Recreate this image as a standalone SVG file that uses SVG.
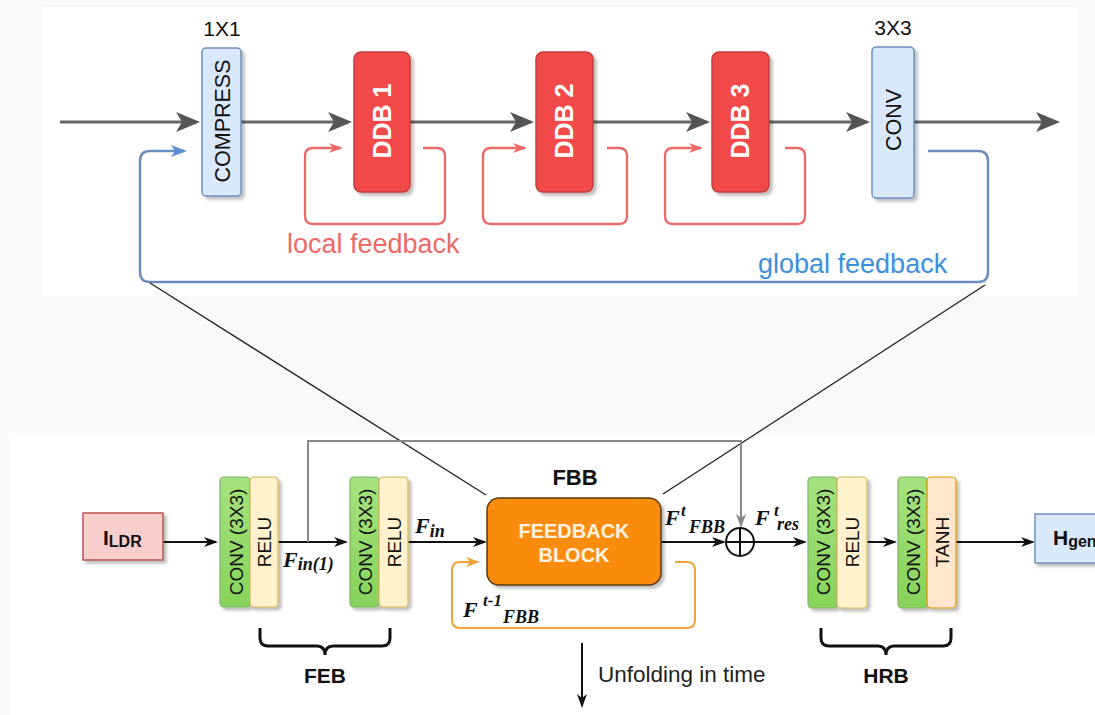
<svg xmlns="http://www.w3.org/2000/svg" width="1095" height="715" viewBox="0 0 1095 715">
<style>
.sans{font-family:"Liberation Sans",Arial,sans-serif}
.math{font-family:"Liberation Serif","Times New Roman",serif;font-style:italic;font-weight:bold;fill:#111}
.main{fill:none;stroke:#666;stroke-width:3}
.loc{fill:none;stroke:#ea6b66;stroke-width:2.3}
.glob{fill:none;stroke:#6c8ebf;stroke-width:2.5}
.blk{fill:none;stroke:#111;stroke-width:2}
.skip{fill:none;stroke:#888;stroke-width:2}
.orng{fill:none;stroke:#f2a33a;stroke-width:2}
.zoom{fill:none;stroke:#222;stroke-width:1.3}
.brace{fill:none;stroke:#111;stroke-width:3}
.bluebox{fill:#dae8fc;stroke:#6c8ebf;stroke-width:1.5}
.ddb{fill:#f24a4a;stroke:#c43c3c;stroke-width:1.5}
.conv{fill:url(#gg);stroke:#82b366;stroke-width:1.2}
.relu{fill:#fff2cc;stroke:#d6b656;stroke-width:1.2}
.tanh{fill:#ffe6cc;stroke:#d79b00;stroke-width:1.2}
.rot{font-family:"Liberation Sans",Arial,sans-serif;text-anchor:middle;fill:#111}
</style>
<defs>
<linearGradient id="gg" x1="0" y1="0" x2="0" y2="1">
<stop offset="0" stop-color="#a6e27f"/>
<stop offset="1" stop-color="#86d35a"/>
</linearGradient>
<filter id="sh" x="-20%" y="-20%" width="150%" height="150%">
<feDropShadow dx="3" dy="3" stdDeviation="1.5" flood-color="#000" flood-opacity="0.25"/>
</filter>
<marker id="aGray" markerUnits="userSpaceOnUse" markerWidth="26" markerHeight="22" refX="20" refY="10" orient="auto">
<path d="M0,0 L24,10 L0,20 L6,10 z" fill="#555"/>
</marker>
<marker id="aRed" markerUnits="userSpaceOnUse" markerWidth="16" markerHeight="12" refX="12" refY="5" orient="auto">
<path d="M0,0 L14,5 L0,10 L4,5 z" fill="#ea6b66"/>
</marker>
<marker id="aBlue" markerUnits="userSpaceOnUse" markerWidth="18" markerHeight="14" refX="13" refY="6" orient="auto">
<path d="M0,0 L16,6 L0,12 L4,6 z" fill="#5b8fd8"/>
</marker>
<marker id="aOrg" markerUnits="userSpaceOnUse" markerWidth="16" markerHeight="12" refX="12" refY="5" orient="auto">
<path d="M0,0 L14,5 L0,10 L4,5 z" fill="#f2a33a"/>
</marker>
<marker id="aBlk" markerUnits="userSpaceOnUse" markerWidth="16" markerHeight="12" refX="12" refY="5" orient="auto">
<path d="M0,0 L14,5 L0,10 L4,5 z" fill="#111"/>
</marker>
<marker id="aSkip" markerUnits="userSpaceOnUse" markerWidth="16" markerHeight="12" refX="12" refY="5" orient="auto">
<path d="M0,0 L14,5 L0,10 L4,5 z" fill="#888"/>
</marker>
</defs>

<rect x="0" y="0" width="1095" height="715" fill="#f9f9f9"/>
<rect x="43" y="7" width="1035" height="289" fill="#ffffff"/>
<rect x="9" y="433" width="1086" height="282" fill="#ffffff"/>

<g id="connectors">
<path class="main" d="M60,122 H196" marker-end="url(#aGray)"/>
<path class="main" d="M241,122 H348" marker-end="url(#aGray)"/>
<path class="main" d="M410,122 H530" marker-end="url(#aGray)"/>
<path class="main" d="M593,122 H706" marker-end="url(#aGray)"/>
<path class="main" d="M769,122 H866" marker-end="url(#aGray)"/>
<path class="main" d="M914,122 H1056" marker-end="url(#aGray)"/>
<path class="loc" d="M423,148 H437 Q445,148 445,156 V216 Q445,224 437,224 H313 Q305,224 305,216 V156 Q305,148 313,148 H341" marker-end="url(#aRed)"/>
<path class="loc" d="M607,148 H619 Q627,148 627,156 V216 Q627,224 619,224 H491 Q483,224 483,216 V156 Q483,148 491,148 H525" marker-end="url(#aRed)"/>
<path class="loc" d="M785,148 H797 Q805,148 805,156 V216 Q805,224 797,224 H673 Q665,224 665,216 V156 Q665,148 673,148 H701" marker-end="url(#aRed)"/>
<path class="glob" d="M928,151 H978 Q988,151 988,161 V272 Q988,282 978,282 H150 Q140,282 140,272 V161 Q140,151 150,151 H184" marker-end="url(#aBlue)"/>
<path class="zoom" d="M150,283 L486,495"/>
<path class="zoom" d="M985,285 L663,494"/>
<path class="blk" d="M163,542 H216" marker-end="url(#aBlk)"/>
<path class="blk" d="M278,542 H346" marker-end="url(#aBlk)"/>
<path class="blk" d="M408,542 H485" marker-end="url(#aBlk)"/>
<path class="blk" d="M661,542 H724" marker-end="url(#aBlk)"/>
<path class="blk" d="M754,542 H805" marker-end="url(#aBlk)"/>
<path class="blk" d="M867,542 H895" marker-end="url(#aBlk)"/>
<path class="blk" d="M956,542 H1033" marker-end="url(#aBlk)"/>
<path class="skip" d="M308,542 V441 H741 V526" marker-end="url(#aSkip)"/>
<path class="orng" d="M675,562 H687 Q695,562 695,570 V620 Q695,628 687,628 H460 Q452,628 452,620 V570 Q452,562 460,562 H478" marker-end="url(#aOrg)"/>
<path class="blk" d="M582,643 V706" marker-end="url(#aBlk)"/>
<path class="brace" d="M260,628 V638 Q260,646 268,646 H317 Q325,646 325,655 Q325,646 333,646 H382 Q390,646 390,638 V628"/>
<path class="brace" d="M821,628 V638 Q821,646 829,646 H878 Q886,646 886,655 Q886,646 894,646 H943 Q951,646 951,638 V628"/>
</g>

<g id="compress">
<rect class="bluebox" x="202" y="48" width="39" height="148" rx="4" filter="url(#sh)"/>
<text class="rot" font-size="21.5" transform="translate(222,121) rotate(-90)" y="7.5">COMPRESS</text>
<text class="sans" x="222" y="36" font-size="21" text-anchor="middle" fill="#111">1X1</text>
</g>
<g id="ddb1">
<rect class="ddb" x="354" y="52" width="56" height="140" rx="7" filter="url(#sh)"/>
<text class="rot" font-size="25" font-weight="bold" style="fill:#fff" transform="translate(382,121) rotate(-90)" y="9">DDB 1</text>
</g>
<g id="ddb2">
<rect class="ddb" x="536" y="52" width="57" height="140" rx="7" filter="url(#sh)"/>
<text class="rot" font-size="25" font-weight="bold" style="fill:#fff" transform="translate(564,121) rotate(-90)" y="9">DDB 2</text>
</g>
<g id="ddb3">
<rect class="ddb" x="712" y="52" width="57" height="140" rx="7" filter="url(#sh)"/>
<text class="rot" font-size="25" font-weight="bold" style="fill:#fff" transform="translate(740,121) rotate(-90)" y="9">DDB 3</text>
</g>
<g id="conv-top">
<rect class="bluebox" x="872" y="47" width="42" height="151" rx="4" filter="url(#sh)"/>
<text class="rot" font-size="21.5" transform="translate(893,120) rotate(-90)" y="7.5">CONV</text>
<text class="sans" x="893" y="35" font-size="21" text-anchor="middle" fill="#111">3X3</text>
</g>
<g id="labels-top">
<text class="sans" x="287" y="253" font-size="27" fill="#ea6b66">local feedback</text>
<text class="sans" x="758" y="273" font-size="27" fill="#3d8fe0">global feedback</text>
</g>

<g id="ildr">
<rect x="83" y="513" width="80" height="47" fill="#f8cecc" stroke="#b85450" stroke-width="1.5" filter="url(#sh)"/>
<text class="sans" x="103" y="545" font-size="21" font-weight="bold" fill="#111">I<tspan font-size="16" dy="2">LDR</tspan></text>
</g>
<g id="feb-conv1">
<rect class="conv" x="220" y="477" width="30" height="130" rx="4" filter="url(#sh)"/>
<rect class="relu" x="250" y="477" width="28" height="130" rx="4" filter="url(#sh)"/>
<text class="rot" font-size="19" transform="translate(236,542) rotate(-90)" y="6.5">CONV (3X3)</text>
<text class="rot" font-size="19" transform="translate(264,542) rotate(-90)" y="6.5">RELU</text>
</g>
<g id="feb-conv2">
<rect class="conv" x="350" y="477" width="29" height="130" rx="4" filter="url(#sh)"/>
<rect class="relu" x="379" y="477" width="29" height="130" rx="4" filter="url(#sh)"/>
<text class="rot" font-size="19" transform="translate(365,542) rotate(-90)" y="6.5">CONV (3X3)</text>
<text class="rot" font-size="19" transform="translate(394,542) rotate(-90)" y="6.5">RELU</text>
</g>
<g id="feb-label">
<text class="sans" x="325" y="683" font-size="21" font-weight="bold" text-anchor="middle" fill="#111">FEB</text>
</g>
<g id="fbb">
<rect x="487" y="498" width="174" height="87" rx="12" fill="#fa8c0a" stroke="#5a3a10" stroke-width="1.5" filter="url(#sh)"/>
<text class="sans" x="574" y="538" font-size="20" font-weight="bold" text-anchor="middle" fill="#fff3e0">FEEDBACK</text>
<text class="sans" x="574" y="562" font-size="20" font-weight="bold" text-anchor="middle" fill="#fff3e0">BLOCK</text>
<text class="sans" x="575" y="485" font-size="22" font-weight="bold" text-anchor="middle" fill="#111">FBB</text>
</g>
<g id="sum">
<circle cx="740" cy="542" r="14" fill="#fff" stroke="#111" stroke-width="2"/>
<path d="M740,528 V556 M726,542 H754" stroke="#111" stroke-width="2"/>
</g>
<g id="hrb-conv1">
<rect class="conv" x="808" y="477" width="29" height="131" rx="4" filter="url(#sh)"/>
<rect class="relu" x="837" y="477" width="30" height="131" rx="4" filter="url(#sh)"/>
<text class="rot" font-size="19" transform="translate(823,542) rotate(-90)" y="6.5">CONV (3X3)</text>
<text class="rot" font-size="19" transform="translate(852,542) rotate(-90)" y="6.5">RELU</text>
</g>
<g id="hrb-conv2">
<rect class="conv" x="898" y="477" width="29" height="131" rx="4" filter="url(#sh)"/>
<rect class="tanh" x="927" y="477" width="29" height="131" rx="4" filter="url(#sh)"/>
<text class="rot" font-size="19" transform="translate(913,542) rotate(-90)" y="6.5">CONV (3X3)</text>
<text class="rot" font-size="19" transform="translate(942,542) rotate(-90)" y="6.5">TANH</text>
</g>
<g id="hrb-label">
<text class="sans" x="886" y="683" font-size="21" font-weight="bold" text-anchor="middle" fill="#111">HRB</text>
</g>
<g id="hgen">
<rect class="bluebox" x="1035" y="514" width="80" height="49" filter="url(#sh)"/>
<text class="sans" x="1053" y="545" font-size="21" font-weight="bold" fill="#111">H<tspan font-size="16" dy="2">gen</tspan></text>
</g>
<g id="math-labels">
<text class="math" x="283" y="567" font-size="22">F<tspan font-size="18" dy="3">in(1)</tspan></text>
<text class="math" x="415" y="533" font-size="22">F<tspan font-size="18" dy="4">in</tspan></text>
<text class="math" x="665" y="525"><tspan font-size="22">F</tspan><tspan x="681" y="516" font-size="17">t</tspan><tspan x="689" y="533" font-size="18">FBB</tspan></text>
<text class="math" x="755" y="525"><tspan font-size="22">F</tspan><tspan x="774" y="516" font-size="17">t</tspan><tspan x="777" y="530" font-size="18">res</tspan></text>
<text class="math" x="463" y="617"><tspan font-size="22">F</tspan><tspan x="483" y="606" font-size="17">t-1</tspan><tspan x="503" y="623" font-size="18">FBB</tspan></text>
</g>
<g id="unfold">
<text class="sans" x="598" y="682" font-size="22.5" fill="#222">Unfolding in time</text>
</g>
</svg>
